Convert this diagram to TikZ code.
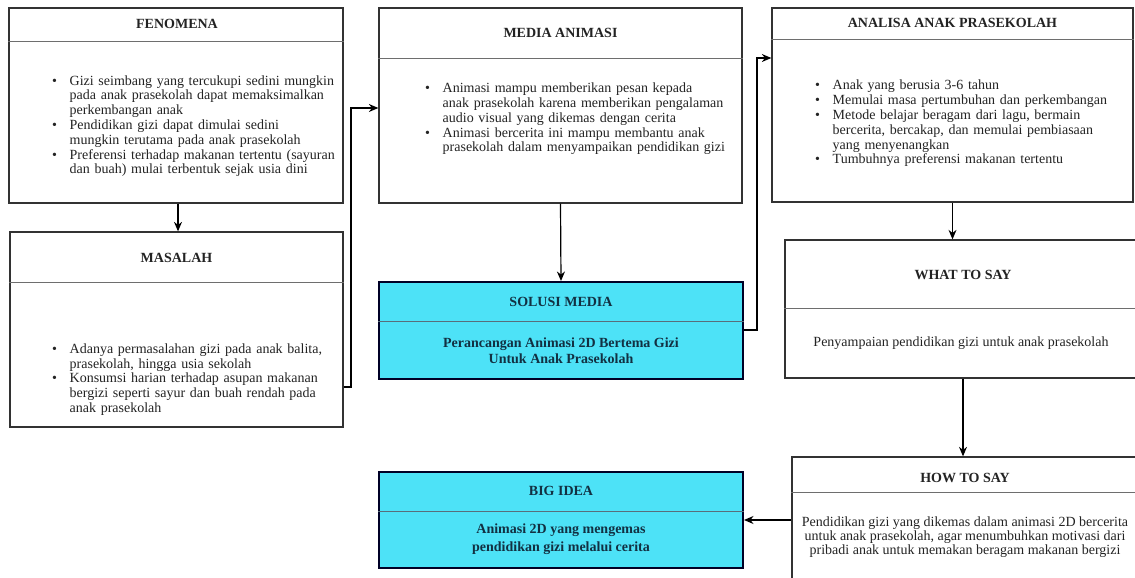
\documentclass[tikz,border=0pt]{standalone}
\usepackage{fontspec}
\setmainfont{Liberation Serif}
\usetikzlibrary{arrows.meta}
\definecolor{cyanbox}{RGB}{77,226,247}
\definecolor{ink}{RGB}{35,35,35}
\definecolor{cink}{RGB}{18,48,66}
\definecolor{boxline}{RGB}{50,50,50}
\definecolor{divline}{RGB}{110,110,110}
\newcommand{\itm}{\par\hangindent=17.5pt\hangafter=1\noindent\makebox[17.5pt][l]{\textbullet}}
\begin{document}
\begin{tikzpicture}[x=1pt,y=-1pt,
  wbox/.style={draw=boxline, line width=1.3pt, fill=white, inner sep=0pt},
  cbox/.style={draw=black!85!blue, line width=2pt, fill=cyanbox, inner sep=0pt},
  div/.style={draw=divline, line width=0.8pt},
  cdiv/.style={draw=cink!70, line width=0.8pt},
  ttl/.style={font=\fontsize{14}{15}\selectfont\bfseries, text=ink, inner sep=0pt},
  cttl/.style={font=\fontsize{14}{15}\selectfont\bfseries, text=cink, inner sep=0pt},
  body/.style={font=\fontsize{14}{14.8}\selectfont, text=ink, text width=320pt, align=left, inner sep=0pt, anchor=west},
  cbody/.style={font=\fontsize{14}{16}\selectfont\bfseries, text=cink, align=center, inner sep=0pt},
  tbody/.style={font=\fontsize{14}{14.2}\selectfont, text=ink, align=center, inner sep=0pt},
  arr/.style={draw=black, line width=1.2pt, -{Stealth[length=9.5pt,width=8pt]}}
]
\useasboundingbox (0,0) rectangle (1135,578);
\fill[white] (0,0) rectangle (1135,578);
\clip (0,0) rectangle (1135,578);

% ---- boxes ----
\node[wbox, minimum width=334pt, minimum height=195pt] (fen) at (176,105.5) {};
\node[wbox, minimum width=333pt, minimum height=195pt] (mas) at (176.5,329.5) {};
\node[wbox, minimum width=363pt, minimum height=195pt] (med) at (560.5,105.5) {};
\node[cbox, minimum width=364pt, minimum height=97pt] (sol) at (561,330.5) {};
\node[wbox, minimum width=361pt, minimum height=194pt] (ana) at (952.5,105) {};
\node[wbox, minimum width=356pt, minimum height=138pt] (what) at (963,309) {};
\node[wbox, minimum width=346pt, minimum height=126pt] (how) at (965,520) {};
\node[cbox, minimum width=364pt, minimum height=96pt] (big) at (561,520) {};

% ---- dividers ----
\draw[div] (fen.west |- 0,41) -- (fen.east |- 0,41);
\draw[div] (mas.west |- 0,282) -- (mas.east |- 0,282);
\draw[div] (med.west |- 0,58) -- (med.east |- 0,58);
\draw[cdiv] (sol.west |- 0,321) -- (sol.east |- 0,321);
\draw[div] (ana.west |- 0,39) -- (ana.east |- 0,39);
\draw[div] (what.west |- 0,308) -- (what.east |- 0,308);
\draw[div] (how.west |- 0,492) -- (how.east |- 0,492);
\draw[cdiv] (big.west |- 0,511) -- (big.east |- 0,511);

% ---- titles ----
\node[ttl] (fent) at (177,24) {FENOMENA};
\node[ttl] (mast) at (176.5,258) {MASALAH};
\node[ttl] (medt) at (560.5,33) {MEDIA ANIMASI};
\node[cttl] (solt) at (561,302) {SOLUSI MEDIA};
\node[ttl] (anat) at (952.5,23) {ANALISA ANAK PRASEKOLAH};
\node[ttl] (whatt) at (963,275) {WHAT TO SAY};
\node[ttl] (howt) at (965,478) {HOW TO SAY};
\node[cttl] (bigt) at (561,491) {BIG IDEA};

% ---- bodies ----
\node[body] (fenb) at (52,123.5) {%
\itm Gizi seimbang yang tercukupi sedini mungkin\newline pada anak prasekolah dapat memaksimalkan\newline perkembangan anak
\itm Pendidikan gizi dapat dimulai sedini\newline mungkin terutama pada anak prasekolah
\itm Preferensi terhadap makanan tertentu (sayuran\newline dan buah) mulai terbentuk sejak usia dini\par};

\node[body] (masb) at (52,377) {%
\itm Adanya permasalahan gizi pada anak balita,\newline prasekolah, hingga usia sekolah
\itm Konsumsi harian terhadap asupan makanan\newline bergizi seperti sayur dan buah rendah pada\newline anak prasekolah\par};

\node[body] (medb) at (425,116.5) {%
\itm Animasi mampu memberikan pesan kepada\newline anak prasekolah karena memberikan pengalaman\newline audio visual yang dikemas dengan cerita
\itm Animasi bercerita ini mampu membantu anak\newline prasekolah dalam menyampaikan pendidikan gizi\par};

\node[body] (anab) at (815,121) {%
\itm Anak yang berusia 3-6 tahun
\itm Memulai masa pertumbuhan dan perkembangan
\itm Metode belajar beragam dari lagu, bermain\newline bercerita, bercakap, dan memulai pembiasaan\newline yang menyenangkan
\itm Tumbuhnya preferensi makanan tertentu\par};

\node[cbody] (solb) at (561,350.5) {Perancangan Animasi 2D Bertema Gizi\\Untuk Anak Prasekolah};
\node[tbody] (whatb) at (961,343) {Penyampaian pendidikan gizi untuk anak prasekolah};
\node[tbody] (howb) at (965,537) {Pendidikan gizi yang dikemas dalam animasi 2D bercerita\\untuk anak prasekolah, agar menumbuhkan motivasi dari\\pribadi anak untuk memakan beragam makanan bergizi};
\node[cbody, font=\fontsize{14}{18}\selectfont\bfseries] (bigb) at (561,539) {Animasi 2D yang mengemas\\pendidikan gizi melalui cerita};

% ---- connectors ----
\coordinate (j1) at (351,387);
\coordinate (j2) at (351,108);
\coordinate (j3) at (757,330);
\coordinate (j4) at (757,58);

\draw[arr] (fen.south -| 178,0) -- (mas.north -| 178,0);
\draw[arr] (mas.east |- j1) -- (j1) -- (j2) -- (med.west |- j2);
\draw[arr] (med.south) -- (sol.north);
\draw[arr] (sol.east |- j3) -- (j3) -- (j4) -- (ana.west |- j4);
\draw[arr] (ana.south) -- (ana.south |- what.north);
\draw[arr] (what.south) -- (what.south |- how.north);
\draw[arr] (how.west) -- (big.east);
\end{tikzpicture}
\end{document}
